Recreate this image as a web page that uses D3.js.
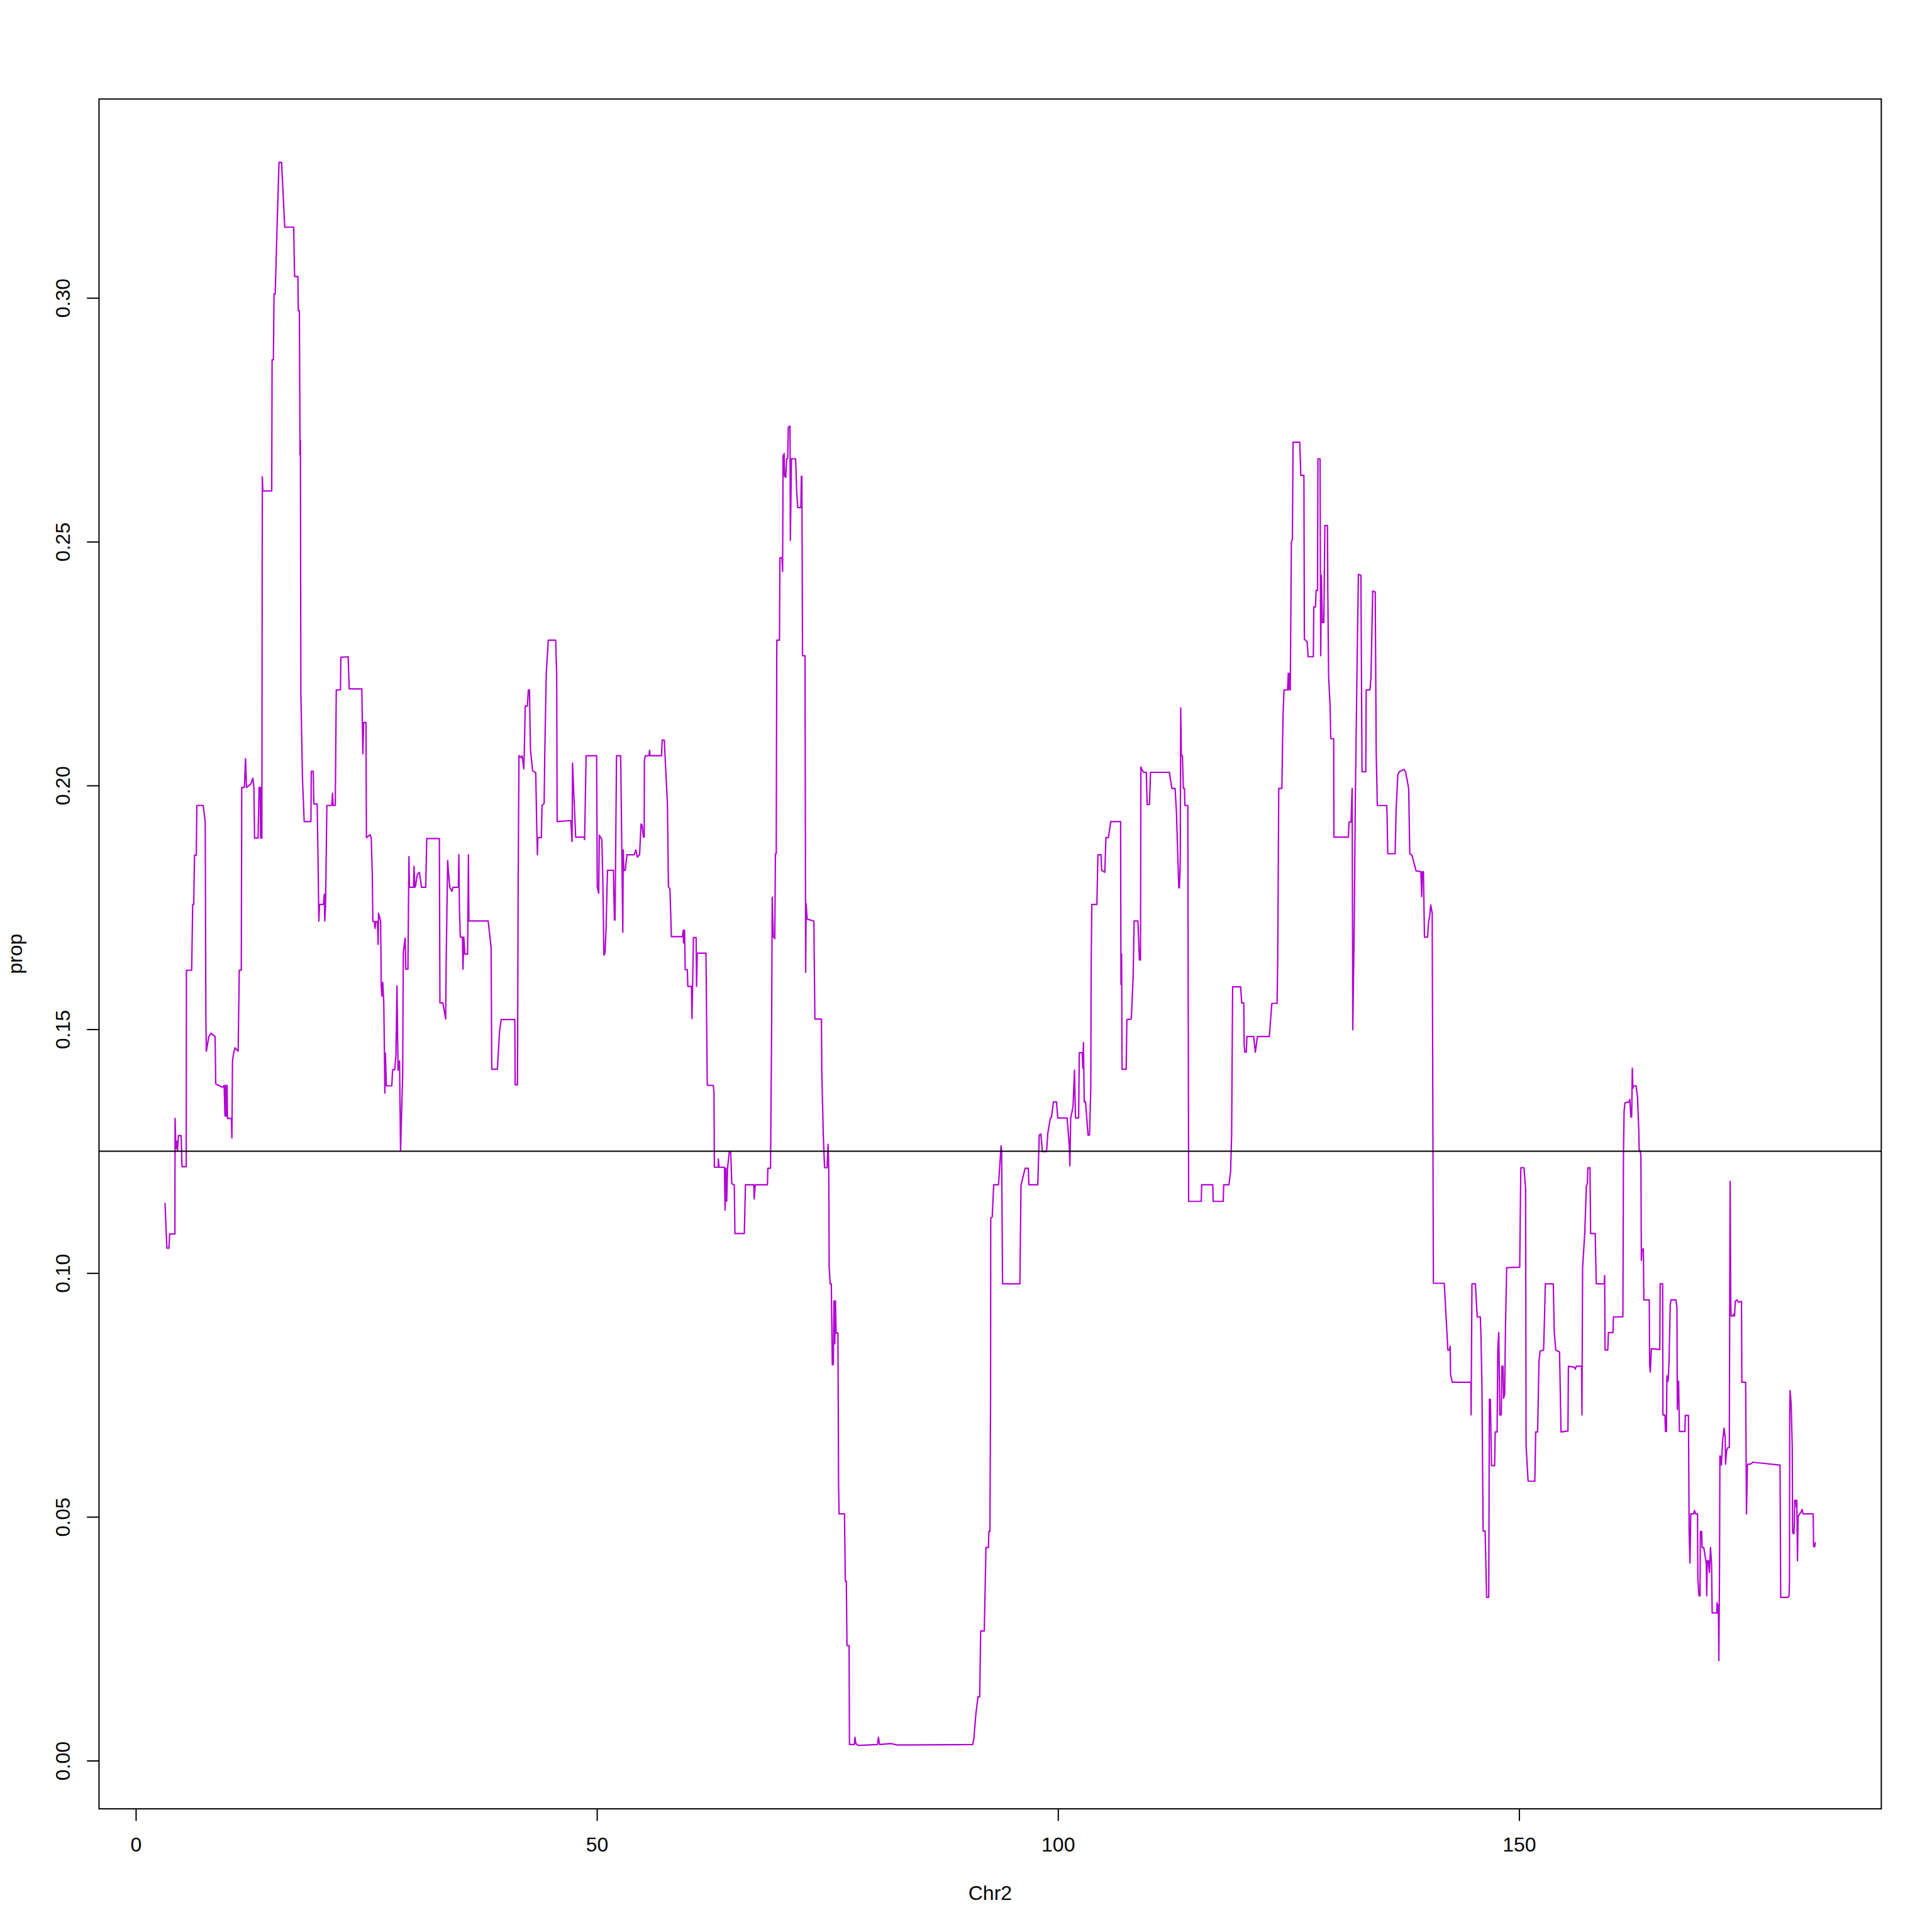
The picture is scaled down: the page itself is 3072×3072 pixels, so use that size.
<!DOCTYPE html>
<html>
<head>
<meta charset="utf-8">
<script src="https://cdn.jsdelivr.net/npm/d3@7/dist/d3.min.js"></script>
<style>
  html, body { margin: 0; padding: 0; background: #ffffff; }
  svg { display: block; }
  text { font-family: "Liberation Sans", Arial, Helvetica, sans-serif; }
</style>
</head>
<body>
<script>
// ---------------- data (position on Chr2, Mb) ----------------
const pos = [
3.17,3.37,3.60,3.67,4.24,4.26,4.35,4.44,4.53,4.62,4.92,5.01,5.47,5.49,6.06,6.17,6.28,6.37,6.56,6.62,
7.31,7.53,7.60,7.65,7.92,8.15,8.60,8.67,9.40,9.58,9.67,9.74,9.81,9.90,9.94,10.37,10.42,10.49,10.65,10.76,
11.10,11.22,11.44,11.49,11.78,11.90,12.01,12.47,12.69,12.81,12.88,13.26,13.37,13.49,13.53,13.62,13.67,13.72,13.78,14.74,
14.78,14.92,14.99,15.12,15.31,15.53,15.81,16.15,17.12,17.22,17.58,17.62,17.74,17.81,17.85,17.90,18.08,18.26,18.99,19.03,
19.24,19.31,19.67,19.78,19.85,19.92,20.35,20.44,20.49,20.58,20.72,21.26,21.33,21.40,21.63,21.74,22.19,22.24,
23.03,23.14,24.51,24.62,24.71,24.96,25.01,25.26,25.42,25.53,25.64,25.71,25.87,25.94,26.03,26.21,26.28,26.32,26.55,26.62,
26.69,26.78,26.89,26.96,27.01,27.07,27.17,27.76,27.85,28.07,28.21,28.32,28.44,28.60,28.71,28.94,29.01,29.21,29.28,29.51,
29.62,29.67,30.12,30.17,30.26,30.35,30.53,30.76,30.98,31.44,31.55,32.92,32.98,33.30,33.60,33.67,33.82,33.89,34.05,34.28,
34.39,34.98,35.03,35.10,35.19,35.42,35.48,35.57,35.69,35.98,36.07,36.12,38.21,38.53,38.60,39.21,39.44,39.62,41.10,41.14,
41.39,41.46,41.55,41.78,41.89,42.07,42.12,42.23,42.46,42.57,42.69,42.80,43.03,43.37,43.48,43.55,43.60,43.98,44.05,44.28,
44.35,44.51,44.73,45.53,45.64,45.69,
47.17,47.24,47.31,47.36,47.70,48.61,48.67,48.83,49.97,50.04,50.20,50.26,50.54,50.65,50.70,50.76,50.88,50.99,51.15,51.79,
51.90,51.97,52.13,52.58,52.81,52.86,52.92,53.08,53.26,54.06,54.22,54.40,54.63,54.79,54.90,55.04,55.13,55.15,55.26,55.65,
55.72,55.76,57.01,57.08,57.31,57.65,57.76,57.92,58.08,59.29,59.36,59.40,59.51,59.58,59.81,59.86,60.26,60.31,60.38,60.47,
60.76,60.81,60.88,61.83,61.97,62.63,62.70,62.74,63.15,63.17,63.26,63.83,63.90,63.99,64.08,64.17,64.36,64.51,64.63,64.90,
64.97,65.99,66.11,67.02,67.06,67.17,68.49,68.54,68.83,68.95,69.01,69.13,69.29,69.36,69.45,69.51,
69.80,69.85,70.07,70.14,70.19,70.23,70.30,70.35,70.48,70.57,70.69,70.76,70.94,70.98,71.10,71.55,71.67,71.78,72.12,72.17,
72.23,72.30,72.57,72.64,72.69,72.80,73.53,73.64,74.35,74.39,74.55,74.69,74.96,75.07,75.14,75.19,
75.30,75.42,75.53,75.64,75.71,75.80,75.87,75.94,76.14,76.21,76.26,76.85,76.94,77.05,77.12,77.35,77.39,77.92,77.99,78.08,
78.37,80.42,80.53,80.65,81.89,82.58,90.76,90.87,91.10,91.33,91.51,91.62,92.01,92.19,92.46,92.51,92.62,92.69,92.71,92.87,
93.03,93.55,93.83,93.89,93.99,95.87,95.99,96.44,96.78,96.85,
97.81,97.97,98.15,98.31,98.76,98.90,99.17,99.29,99.51,99.85,99.97,100.99,101.22,101.29,101.38,101.63,101.79,101.90,102.24,102.31,
102.63,102.70,102.76,102.85,102.99,103.26,103.42,103.56,103.60,103.67,104.22,104.33,104.67,104.74,105.08,105.20,105.47,105.72,106.79,106.83,
106.90,106.95,107.40,107.47,107.95,108.15,108.26,108.67,108.83,108.95,108.99,109.17,109.29,109.58,109.67,109.92,110.04,112.08,112.35,112.70,
112.85,113.10,113.17,113.26,113.31,113.38,113.49,113.60,113.72,113.76,114.08,114.17,115.54,115.58,116.79,116.83,117.92,117.97,118.54,118.72,
118.83,
118.94,119.81,119.92,120.15,120.19,120.26,120.42,120.49,121.22,121.40,121.63,122.92,123.19,123.76,123.83,123.94,124.28,124.40,124.51,124.90,
124.97,125.03,125.13,125.19,125.31,125.42,125.49,126.22,126.33,126.67,126.72,127.01,127.13,127.69,127.74,127.92,127.99,128.15,128.19,128.42,
128.49,128.56,128.67,128.83,128.94,129.22,129.26,129.35,129.51,129.58,129.90,129.92,131.49,131.56,131.78,131.90,131.97,132.13,132.24,132.47,
132.58,132.85,132.97,133.38,133.42,133.83,133.94,134.13,134.40,134.51,134.63,135.65,135.69,135.76,136.56,136.67,136.85,137.01,137.53,137.69,
137.81,138.03,138.15,138.38,138.83,139.35,139.44,139.51,139.63,139.74,140.08,140.19,140.31,140.42,140.58,
140.71,141.89,142.28,142.46,142.53,142.57,142.76,144.78,144.80,144.89,145.26,145.46,145.80,145.87,145.98,146.10,146.32,146.48,146.71,146.78,
146.89,147.01,147.35,147.41,147.62,147.69,147.80,147.91,148.07,148.14,148.26,148.32,148.44,148.53,148.66,148.82,150.07,150.19,150.53,150.71,
150.76,150.98,151.71,151.80,152.01,152.16,152.28,152.66,152.76,152.85,153.71,153.82,153.98,154.39,154.55,155.30,155.35,155.98,156.10,156.21,
156.78,156.82,156.89,157.12,157.30,157.41,157.46,157.69,157.76,158.26,158.37,159.23,159.28,159.32,159.62,159.69,160.19,160.23,161.26,
161.32,161.39,161.48,161.94,162.01,162.12,162.21,162.28,162.35,162.39,162.69,162.85,162.98,163.03,163.14,163.21,163.26,163.32,163.48,163.53,
164.12,164.16,164.23,164.35,165.26,165.30,165.57,165.60,165.82,165.87,165.98,166.03,166.16,166.26,166.39,166.48,167.01,167.12,167.16,167.23,
167.30,167.39,167.98,168.03,168.37,168.44,168.53,168.62,168.94,169.01,169.16,169.35,169.39,169.51,169.62,169.66,169.80,169.85,170.03,170.30,
170.35,170.41,170.53,170.64,170.76,170.87,170.94,171.44,171.48,171.55,171.62,171.66,171.73,171.78,171.89,171.94,172.07,172.23,172.35,172.39,
172.51,172.64,172.80,172.85,172.89,172.94,172.98,173.21,173.26,173.37,173.44,173.66,173.78,174.12,174.16,174.57,174.66,174.76,174.80,175.07,
175.35,178.30,178.37,179.16,179.28,179.32,179.35,179.39,179.51,179.62,179.66,179.80,179.85,179.89,180.03,180.07,180.12,180.19,180.26,180.41,
180.53,180.69,180.80,181.89,181.94,182.07,182.12
];

const prop = [
.1144,.1051,.1051,.1080,.1080,.1317,.1255,.1270,.1251,.1282,.1282,.1218,.1218,.1621,.1621,.1756,.1756,.1857,.1857,.1959,
.1959,.1925,.1522,.1455,.1485,.1492,.1485,.1388,.1381,.1385,.1322,.1385,.1322,.1385,.1317,.1317,.1277,.1436,.1455,.1462,
.1455,.1621,.1621,.1996,.1996,.2055,.1996,.2003,.2015,.1996,.1892,.1892,.1996,.1996,.1892,.1996,.1892,.2633,.2604,.2604,
.2873,.2873,.3008,.3008,.3140,.3278,.3278,.3145,.3145,.3044,.3044,.2974,.2974,.2678,.2707,.2189,.2011,.1926,.1926,.2029,
.2029,.1962,.1962,.1826,.1722,.1756,.1756,.1777,.1722,.1756,.1959,.1959,.1984,.1959,.1959,.2196,.2196,.2263,
.2264,.2198,.2198,.2065,.2129,.2129,.1893,.1897,.1899,.1893,.1822,.1721,.1721,.1707,.1721,.1721,.1674,.1738,.1722,.1588,
.1568,.1596,.1556,.1455,.1369,.1451,.1384,.1384,.1417,.1417,.1447,.1589,.1416,.1435,.1251,.1408,.1658,.1687,.1623,.1623,
.1854,.1791,.1791,.1834,.1791,.1795,.1818,.1822,.1791,.1791,.1891,.1891,.1554,.1554,.1521,.1656,.1846,.1826,.1791,.1783,
.1791,.1791,.1858,.1744,.1689,.1689,.1623,.1689,.1654,.1654,.1858,.1722,.1722,.1668,.1418,.1418,.1494,.1520,.1520,.1386,
.1386,.1783,.2061,.2057,.2061,.2034,.2061,.2163,.2163,.2196,.2196,.2073,.2030,.2026,.1916,.1858,.1893,.1893,.1959,.1963,
.2065,.2229,.2298,.2298,.2229,.1926,
.1928,.1906,.1885,.2046,.1894,.1894,.1889,.2061,.2061,.1792,.1779,.1898,.1889,.1801,.1733,.1652,.1656,.1703,.1826,.1826,
.1724,.1724,.2061,.2061,.1699,.1868,.1826,.1826,.1858,.1858,.1868,.1853,.1858,.1921,.1919,.1894,.1894,.2052,.2061,.2061,
.2072,.2061,.2061,.2093,.2093,.1962,.1792,.1788,.1690,.1690,.1703,.1677,.1703,.1622,.1622,.1588,.1588,.1522,.1588,.1688,
.1688,.1588,.1656,.1656,.1385,.1385,.1368,.1217,.1217,.1234,.1217,.1217,.1129,.1215,.1147,.1215,.1249,.1249,.1183,.1181,
.1081,.1081,.1181,.1181,.1152,.1181,.1181,.1215,.1215,.1504,.1771,.1690,.1686,.1860,.1860,.2298,
.2298,.2467,.2467,.2439,.2677,.2638,.2681,.2634,.2632,.2670,.2670,.2735,.2737,.2503,.2670,.2670,.2602,.2570,.2570,.2634,
.2634,.2266,.2266,.1617,.1758,.1726,.1722,.1521,.1521,.1412,.1283,.1216,.1216,.1264,.1219,.1012,
.0978,.0978,.0812,.0812,.0943,.0855,.0943,.0877,.0877,.0567,.0506,.0506,.0368,.0368,.0236,.0236,.0033,.0033,.0048,.0035,
.0031,.0033,.0048,.0033,.0035,.0032,.0033,.0044,.0096,.0131,.0131,.0266,.0266,.0437,.0437,.0470,.0470,.0742,.1113,.1115,
.1181,.1181,.1261,.1250,.0978,.0978,.1180,.1215,.1215,.1181,
.1181,.1283,.1285,.1249,.1249,.1287,.1318,.1319,.1351,.1351,.1318,.1318,.1263,.1220,.1318,.1341,.1416,.1318,.1318,.1452,
.1452,.1420,.1473,.1351,.1351,.1283,.1283,.1380,.1631,.1756,.1756,.1858,.1858,.1826,.1822,.1893,.1893,.1926,.1926,.1592,
.1654,.1418,.1418,.1520,.1521,.1607,.1722,.1722,.1642,.1642,.2038,.2030,.2027,.2027,.1961,.1961,.2027,.2027,.1994,.1994,
.1944,.1790,.1790,.1842,.2159,.2061,.2061,.1994,.1994,.1959,.1959,.1147,.1147,.1181,.1181,.1147,.1147,.1181,.1181,.1208,
.1283,
.1587,.1587,.1554,.1554,.1468,.1453,.1453,.1485,.1485,.1453,.1485,.1485,.1553,.1553,.1644,.1994,.1994,.2141,.2196,.2196,
.2230,.2196,.2230,.2196,.2499,.2505,.2704,.2704,.2636,.2636,.2300,.2295,.2264,.2264,.2366,.2366,.2400,.2400,.2670,.2670,
.2266,.2431,.2334,.2334,.2533,.2533,.2400,.2223,.2162,.2096,.2096,.1894,.1894,.1925,.1925,.1994,.1499,.1721,.1965,.2300,
.2433,.2431,.2028,.2028,.2196,.2196,.2221,.2399,.2397,.2067,.1959,.1959,.1937,.1860,.1860,.1950,.2022,.2028,.2033,.2028,
.2016,.1994,.1860,.1857,.1825,.1823,.1772,.1823,.1823,.1689,.1689,.1721,.1732,.1755,.1738,
.0979,.0979,.0842,.0842,.0850,.0792,.0776,.0776,.0709,.0978,.0978,.0910,.0910,.0870,.0760,.0471,.0471,.0335,.0335,.0741,
.0741,.0605,.0605,.0674,.0674,.0842,.0878,.0709,.0709,.0809,.0809,.0743,.0752,.0893,.1011,.1011,.1012,.1216,.1216,.1173,
.0647,.0573,.0573,.0674,.0674,.0819,.0840,.0842,.0910,.0978,.0978,.0878,.0842,.0838,.0674,.0676,.0809,.0807,.0803,.0809,
.0809,.0709,.1011,.1081,.1179,.1183,.1216,.1216,.1081,.1081,.0978,.0978,.0995,.0842,.0842,.0878,.0878,.0910,.0910,
.1246,.1332,.1349,.1351,.1356,.1320,.1320,.1420,.1379,.1384,.1384,.1360,.1293,.1251,.1251,.1241,.1026,.1047,.1050,.0945,
.0945,.0811,.0797,.0845,.0843,.0978,.0978,.0709,.0709,.0675,.0675,.0789,.0778,.0816,.0935,.0945,.0945,.0930,.0720,.0778,
.0778,.0675,.0675,.0708,.0708,.0472,.0405,.0506,.0506,.0513,.0506,.0506,.0372,.0338,.0338,.0470,.0470,.0437,.0437,.0405,
.0338,.0410,.0410,.0386,.0437,.0405,.0303,.0303,.0324,.0303,.0319,.0205,.0369,.0625,.0623,.0606,.0655,.0682,.0663,.0608,
.0636,.0642,.0642,.0988,.1188,.0988,.0912,.0912,.0916,.0912,.0942,.0945,.0940,.0942,.0776,.0776,.0506,.0606,.0608,.0608,
.0612,.0606,.0335,.0335,.0338,.0369,.0711,.0759,.0730,.0644,.0467,.0465,.0486,.0534,.0534,.0520,.0534,.0410,.0501,.0506,
.0508,.0515,.0506,.0506,.0439,.0439,.0448
];

const xTicks = [0, 50, 100, 150];
const yTicks = [0.00, 0.05, 0.10, 0.15, 0.20, 0.25, 0.30];
const yTickLabels = ["0.00", "0.05", "0.10", "0.15", "0.20", "0.25", "0.30"];
const xLabel = "Chr2";
const yLabel = "prop";
const threshold = 0.125;

// ---------------- layout ----------------
const W = 3072, H = 3072;
const lineH = 38.4;                 // one margin line (12pt at 192 dpi * 1.2)
const margin = { top: 4.1 * lineH, right: 2.1 * lineH, bottom: 5.1 * lineH, left: 4.1 * lineH };
const fontPx = 32;
const traceColor = "#B300D3";

const svg = d3.select("body").append("svg")
  .attr("width", W).attr("height", H)
  .attr("viewBox", `0 0 ${W} ${H}`);
svg.append("rect").attr("width", W).attr("height", H).attr("fill", "#ffffff");

// R-style axis range: data range extended by 4% on each side
function padded(ext) { const d = (ext[1] - ext[0]) * 0.04; return [ext[0] - d, ext[1] + d]; }
const x = d3.scaleLinear().domain(padded(d3.extent(pos))).range([margin.left, W - margin.right]);
const y = d3.scaleLinear().domain(padded(d3.extent(prop))).range([H - margin.bottom, margin.top]);

const data = pos.map((p, i) => ({ p, v: prop[i] }));

// trace
svg.append("path")
  .datum(data)
  .attr("fill", "none")
  .attr("stroke", traceColor)
  .attr("stroke-width", 2.2)
  .attr("stroke-linejoin", "round")
  .attr("d", d3.line().x(d => x(d.p)).y(d => y(d.v)));

// threshold line (abline)
svg.append("line")
  .attr("x1", margin.left).attr("x2", W - margin.right)
  .attr("y1", y(threshold)).attr("y2", y(threshold))
  .attr("stroke", "#000").attr("stroke-width", 2);

// box
svg.append("rect")
  .attr("x", margin.left).attr("y", margin.top)
  .attr("width", W - margin.left - margin.right)
  .attr("height", H - margin.top - margin.bottom)
  .attr("fill", "none").attr("stroke", "#000").attr("stroke-width", 2);

const tickLen = 0.5 * lineH;

// x axis
const gx = svg.append("g")
  .attr("transform", `translate(0,${H - margin.bottom})`)
  .call(d3.axisBottom(x).tickValues(xTicks).tickFormat(d3.format("d")).tickSize(tickLen).tickSizeOuter(0));
gx.select(".domain").remove();
gx.selectAll(".tick line").attr("stroke", "#000").attr("stroke-width", 2);
gx.selectAll(".tick text")
  .attr("y", 68).attr("dy", null)
  .attr("font-size", fontPx).attr("fill", "#000")
  .attr("font-family", '"Liberation Sans", Arial, Helvetica, sans-serif');

// y axis
const gy = svg.append("g")
  .attr("transform", `translate(${margin.left},0)`)
  .call(d3.axisLeft(y).tickValues(yTicks).tickFormat((d, i) => yTickLabels[i]).tickSize(tickLen).tickSizeOuter(0));
gy.select(".domain").remove();
gy.selectAll(".tick line").attr("stroke", "#000").attr("stroke-width", 2);
gy.selectAll(".tick text")
  .attr("x", 0).attr("y", -46).attr("dy", null)
  .attr("transform", "rotate(-90)")
  .attr("text-anchor", "middle")
  .attr("font-size", fontPx).attr("fill", "#000")
  .attr("font-family", '"Liberation Sans", Arial, Helvetica, sans-serif');

// axis titles
svg.append("text")
  .attr("x", (margin.left + W - margin.right) / 2)
  .attr("y", H - margin.bottom + 68 + 2 * lineH)
  .attr("text-anchor", "middle")
  .attr("font-size", fontPx).attr("fill", "#000")
  .text(xLabel);

svg.append("text")
  .attr("transform", `translate(${margin.left - 46 - 2 * lineH},${(margin.top + H - margin.bottom) / 2}) rotate(-90)`)
  .attr("text-anchor", "middle")
  .attr("font-size", fontPx).attr("fill", "#000")
  .text(yLabel);
</script>
</body>
</html>
